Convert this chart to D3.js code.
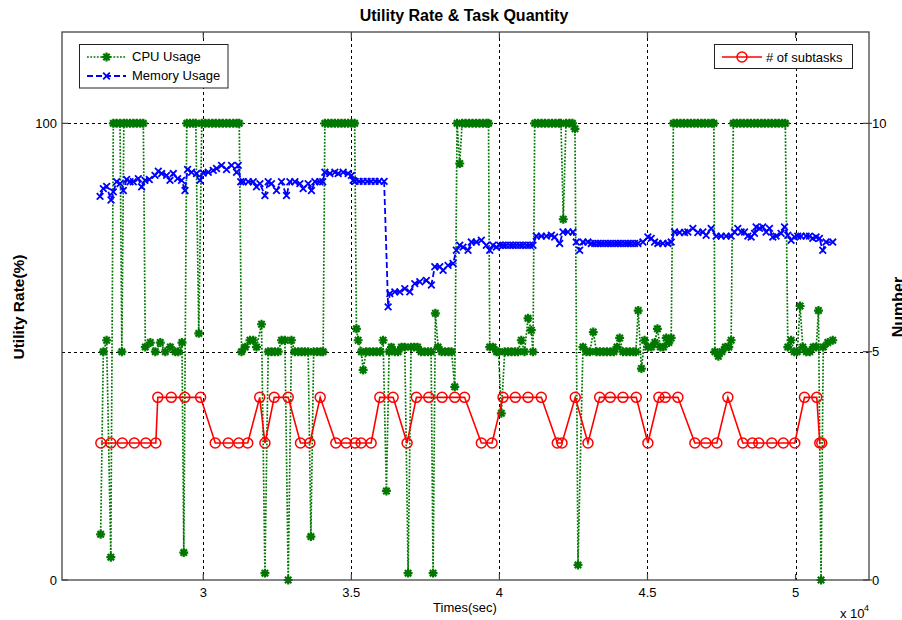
<!DOCTYPE html>
<html><head><meta charset="utf-8">
<script src="https://cdn.jsdelivr.net/npm/d3@7"></script>
<style>body{margin:0;background:#fff}svg{display:block}</style>
</head><body>
<svg id="c" width="902" height="620"></svg>
<script>
// ---- data (time in seconds) ----
const cpuTime = [26535,26626,26737,26879,26963,27075,27189,27250,27318,27412,27527,27638,27756,27874,27976,
28043,28212,28380,28549,28718,28887,29055,29156,29281,29342,29443,29551,29663,29747,29848,29949,
30067,30186,30304,30422,30540,30658,30776,30894,31012,31130,31215,31292,31417,31576,31687,31798,31967,32082,
32193,32304,32419,32531,32642,32757,32868,32979,33094,33205,33317,33431,33543,33634,33728,33846,33964,34049,
34106,34218,34329,34444,34555,34666,34781,34892,35004,35112,35172,35230,35341,35398,35500,35618,35736,35854,
35972,36073,36184,36276,36353,36468,36579,36691,36805,36917,37018,37119,37237,37355,37473,37592,37693,37760,
37838,37929,38047,38165,38283,38384,38492,38570,38661,38739,38857,38975,39093,39211,39329,39447,39565,39633,
39673,39785,39903,39970,40065,40179,40291,40409,40527,40628,40739,40847,40966,41077,41134,41192,41303,41421,
41539,41657,41775,41893,42011,42079,42157,42248,42366,42467,42551,42653,42821,42939,43057,43169,43277,43395,
43513,43631,43749,43867,43968,44060,44171,44289,44407,44525,44609,44687,44795,44903,45014,45132,45250,45335,
45436,45537,45632,45723,45801,45875,45993,46111,46229,46347,46465,46583,46701,46819,46937,47056,47174,47241,
47275,47393,47511,47629,47747,47825,47899,48017,48135,48253,48371,48490,48607,48726,48844,48962,49080,49198,
49316,49434,49552,49654,49738,49849,49957,50058,50153,50244,50362,50480,50598,50699,50774,50861,50936,51088,51256];
const cpuValue = [10,50,52.5,5,100,100,100,50,100,100,100,100,100,100,100,
51,52,50,52,50,51,50,50,52,6,100,100,100,100,54,100,
100,100,100,100,100,100,100,100,100,100,100,50,51,52.5,52.5,51,56,1.5,
50,50,50,50,52.5,52.5,0,52.5,50,50,50,50,50,9.5,50,50,50,50,
100,100,100,100,100,100,100,100,100,100,55,52.5,50,46,50,50,50,50,
50,52.5,19.5,50,51,50,50,51,51,1.5,51,51,51,50,50,50,50,1.5,
58.4,51,50,50,50,50,42.3,100,91.2,100,100,100,100,100,100,100,100,100,
51,51,50,50,36.5,50,50,50,50,50,52.5,50,57.3,54.7,50,100,100,100,
100,100,100,100,100,100,79,100,100,100,98.8,3.3,51,50,50,54.3,50,50,
50,50,50,50,51,53,50,50,50,50,50,59,46.3,52.5,51,51,52,55,
51,51,53,52,53,100,100,100,100,100,100,100,100,100,100,100,100,100,
50,49,50,51,51,52.5,100,100,100,100,100,100,100,100,100,100,100,100,
100,100,100,100,51,52.5,50,50,60,51,50,50,51,51,59,0,51,52,52.5];

const memTime = [26515,26626,26737,26886,26963,27075,27189,27301,27412,27527,27638,27807,27918,28033,28178,
28370,28482,28593,28762,28876,28988,29133,29268,29383,29470,29605,29774,29889,30000,30169,30337,30449,30617,
30786,30955,31124,31181,31265,31350,31518,31687,31798,31913,32082,32193,32304,32473,32642,32811,32925,33094,
33263,33374,33543,33654,33769,33937,34032,34106,34275,34444,34555,34724,34892,35004,35061,35128,35263,35398,
35533,35668,35803,35938,36107,36242,36299,36468,36637,36805,36974,37143,37312,37534,37703,37818,37986,38098,
38266,38435,38546,38661,38772,38941,39053,39221,39390,39559,39673,39785,39896,40011,40122,40233,40348,40459,
40571,40686,40797,40909,41024,41134,41246,41417,41586,41755,41866,42035,42146,42315,42484,42595,42710,42821,
42990,43101,43216,43327,43438,43553,43665,43776,43891,44002,44113,44228,44340,44451,44565,44677,44846,45014,
45126,45240,45352,45520,45689,45801,45915,46084,46253,46364,46533,46701,46870,46981,47150,47319,47488,47656,
47825,47940,48051,48162,48277,48388,48500,48614,48668,48783,48894,49006,49120,49232,49343,49512,49627,49738,
49849,49964,50075,50187,50356,50470,50581,50693,50807,50919,51030,51256];
const memValue = [84.0,85.7,86.2,83.2,85.0,87.2,86.8,85.3,87.7,87.2,87.2,87.9,86.1,87.5,87.7,
88.6,89.5,89.0,88.6,87.5,89.0,87.9,87.5,85.3,89.9,89.3,89.0,87.5,89.1,89.3,89.7,90.1,90.8,
89.9,90.8,89.3,90.8,87.2,87.2,87.2,87.2,86.1,86.8,84.2,87.2,86.8,85.3,87.2,84.2,87.2,87.2,
86.8,85.7,86.8,85.3,87.2,87.2,87.2,89.3,89.0,89.3,89.0,89.3,89.0,88.6,87.5,87.3,87.3,87.3,
87.3,87.3,87.3,87.3,87.3,59.8,62.7,63.1,63.1,63.8,63.1,64.9,65.3,65.6,64.6,68.6,68.6,67.8,
68.9,69.3,72.2,73.3,72.9,72.2,74.0,74.0,74.4,73.3,72.2,73.3,72.9,73.3,73.3,73.3,73.3,73.3,
73.3,73.3,73.3,73.3,73.3,73.3,75.3,75.3,75.3,75.5,75.1,73.7,76.2,76.2,76.2,74.0,72.2,74.0,
74.0,73.7,73.7,73.7,73.7,73.7,73.7,73.7,73.7,73.7,73.7,73.7,73.7,73.7,73.7,73.7,74.0,75.1,
74.8,74.0,73.7,73.7,73.7,74.0,76.2,76.1,76.1,76.2,77.0,76.1,76.2,75.5,77.0,75.3,75.3,75.3,
75.3,76.2,77.0,76.2,76.2,75.3,75.1,75.9,77.3,77.0,77.3,76.2,77.0,75.1,75.3,75.9,77.3,75.5,
74.4,75.1,75.3,75.3,75.3,75.3,74.8,75.1,74.8,72.2,74.0,74.0];

const taskTime = [26542,26879,27267,27672,28060,28397,28465,28920,29376,29909,30405,30844,31198,31501,31906,
32082,32396,32868,33283,33600,33948,34477,34825,35128,35331,35668,35962,36411,36883,37197,37615,38064,38492,
38823,39390,39751,40122,40537,40966,41414,41954,42113,42561,42990,43385,43742,44171,44620,45014,45385,45598,
46027,46600,46971,47342,47714,48220,48540,48759,49198,49586,49974,50301,50716,50818,50885];
const taskCount = [3,3,3,3,3,3,4,4,4,4,3,3,3,3,4,
3,4,4,3,3,4,3,3,3,3,3,4,4,3,4,4,4,4,
4,3,3,4,4,4,4,3,3,4,3,4,4,4,4,3,4,4,
4,3,3,3,4,3,3,3,3,3,3,4,4,3,3];

const xTicks = [30000,35000,40000,45000,50000];
const xTickLabels = ["3","3.5","4","4.5","5"];
const leftTicks = [0,100];
const rightTicks = [0,5,10];

// ---- drawing ----
const FONT = "'Liberation Sans', Arial, Helvetica, sans-serif";
const svg = d3.select("#c");
const L = 62, R = 869, T = 32, B = 580;
const x = d3.scaleLinear().domain([25230, 52480]).range([L, R]);
const yL = d3.scaleLinear().domain([0, 120]).range([B, T]);
const yR = d3.scaleLinear().domain([0, 12]).range([B, T]);

const asterisk = { draw(ctx, size) { const r = Math.sqrt(size) / 2, d = r * 0.72;
  ctx.moveTo(-r, 0); ctx.lineTo(r, 0); ctx.moveTo(0, -r); ctx.lineTo(0, r);
  ctx.moveTo(-d, -d); ctx.lineTo(d, d); ctx.moveTo(-d, d); ctx.lineTo(d, -d); } };
const cross = { draw(ctx, size) { const r = Math.sqrt(size) / 2;
  ctx.moveTo(-r, -r); ctx.lineTo(r, r); ctx.moveTo(-r, r); ctx.lineTo(r, -r); } };

svg.append("rect").attr("width", 902).attr("height", 620).attr("fill", "#fff");

// grid
const grid = svg.append("g").attr("stroke", "#000").attr("stroke-width", 1).attr("stroke-dasharray", "3,3").attr("fill", "none");
grid.selectAll("line.v").data(xTicks).join("line").attr("class", "v")
  .attr("x1", d => Math.round(x(d)) + 0.5).attr("x2", d => Math.round(x(d)) + 0.5).attr("y1", T).attr("y2", B);
grid.selectAll("line.h").data(rightTicks.slice(1)).join("line").attr("class", "h")
  .attr("y1", d => Math.round(yR(d)) + 0.5).attr("y2", d => Math.round(yR(d)) + 0.5).attr("x1", L).attr("x2", R);

// CPU
const cpu = cpuTime.map((t, i) => [t, cpuValue[i]]);
svg.append("path").datum(cpu).attr("fill", "none").attr("stroke", "#007800").attr("stroke-width", 1.7)
  .attr("stroke-dasharray", "1.8,1.5").attr("d", d3.line().x(d => x(d[0])).y(d => yL(d[1])));
svg.append("g").selectAll("path").data(cpu).join("path")
  .attr("transform", d => `translate(${x(d[0])},${yL(d[1])})`)
  .attr("d", d3.symbol().type(asterisk).size(80)).attr("stroke", "#007800").attr("stroke-width", 2.2).attr("fill", "none");

// Memory
const mem = memTime.map((t, i) => [t, memValue[i]]);
svg.append("path").datum(mem).attr("fill", "none").attr("stroke", "#0000ff").attr("stroke-width", 1.8)
  .attr("stroke-dasharray", "6,3").attr("d", d3.line().x(d => x(d[0])).y(d => yL(d[1])));
svg.append("g").selectAll("path").data(mem).join("path")
  .attr("transform", d => `translate(${x(d[0])},${yL(d[1])})`)
  .attr("d", d3.symbol().type(cross).size(44)).attr("stroke", "#0000ff").attr("stroke-width", 1.8).attr("fill", "none");

// Subtasks
const task = taskTime.map((t, i) => [t, taskCount[i]]);
svg.append("path").datum(task).attr("fill", "none").attr("stroke", "#ff0000").attr("stroke-width", 1.6)
  .attr("d", d3.line().x(d => x(d[0])).y(d => yR(d[1])));
svg.append("g").selectAll("circle").data(task).join("circle")
  .attr("cx", d => x(d[0])).attr("cy", d => yR(d[1])).attr("r", 5)
  .attr("stroke", "#ff0000").attr("stroke-width", 1.5).attr("fill", "none");

// axes box
svg.append("rect").attr("x", L).attr("y", T).attr("width", R - L).attr("height", B - T)
  .attr("fill", "none").attr("stroke", "#444").attr("stroke-width", 1.3);

// ticks
const tk = svg.append("g").attr("stroke", "#444").attr("stroke-width", 1.2);
tk.selectAll("line.b").data(xTicks).join("line").attr("x1", d => x(d)).attr("x2", d => x(d)).attr("y1", B).attr("y2", B - 6);
tk.selectAll("line.t").data(xTicks).join("line").attr("x1", d => x(d)).attr("x2", d => x(d)).attr("y1", T).attr("y2", T + 6);
tk.selectAll("line.l").data(leftTicks).join("line").attr("x1", L).attr("x2", L + 6).attr("y1", d => yL(d)).attr("y2", d => yL(d));
tk.selectAll("line.r").data(rightTicks).join("line").attr("x1", R - 6).attr("x2", R + 3).attr("y1", d => yR(d)).attr("y2", d => yR(d));

const txt = svg.append("g").attr("font-family", FONT).attr("fill", "#000");
txt.selectAll("text.xl").data(xTicks).join("text").attr("x", d => x(d)).attr("y", 597)
  .attr("text-anchor", "middle").attr("font-size", 13).text((d, i) => xTickLabels[i]);
txt.selectAll("text.yl").data(leftTicks).join("text").attr("x", 57).attr("y", d => yL(d) + 4.5)
  .attr("text-anchor", "end").attr("font-size", 13).text(d => d);
txt.selectAll("text.yr").data(rightTicks).join("text").attr("x", 872).attr("y", d => yR(d) + 4.5)
  .attr("text-anchor", "start").attr("font-size", 13).text(d => d);

txt.append("text").attr("x", 464).attr("y", 21).attr("text-anchor", "middle").attr("font-size", 16)
  .attr("font-weight", "bold").text("Utility Rate & Task Quantity");
txt.append("text").attr("x", 465).attr("y", 612).attr("text-anchor", "middle").attr("font-size", 13).text("Times(sec)");
txt.append("text").attr("x", 840).attr("y", 618).attr("font-size", 13).text("x 10");
txt.append("text").attr("x", 864).attr("y", 611).attr("font-size", 9).text("4");
txt.append("text").attr("transform", "translate(24,307) rotate(-90)").attr("text-anchor", "middle")
  .attr("font-size", 15.5).attr("font-weight", "bold").text("Utility Rate(%)");
txt.append("text").attr("transform", "translate(904,307) rotate(-90)").attr("text-anchor", "middle")
  .attr("font-size", 16).attr("font-weight", "bold").text("Number");

// legends
const lg1 = svg.append("g");
lg1.append("rect").attr("x", 79.5).attr("y", 44.5).attr("width", 148.5).attr("height", 43.5)
  .attr("fill", "#fff").attr("stroke", "#222").attr("stroke-width", 1);
lg1.append("line").attr("x1", 87).attr("x2", 126).attr("y1", 57).attr("y2", 57)
  .attr("stroke", "#007800").attr("stroke-width", 1.7).attr("stroke-dasharray", "1.8,1.5");
lg1.append("path").attr("transform", "translate(106.5,57)").attr("d", d3.symbol().type(asterisk).size(80)())
  .attr("stroke", "#007800").attr("stroke-width", 2.2).attr("fill", "none");
lg1.append("line").attr("x1", 87).attr("x2", 126).attr("y1", 76).attr("y2", 76)
  .attr("stroke", "#0000ff").attr("stroke-width", 1.8).attr("stroke-dasharray", "6,3");
lg1.append("path").attr("transform", "translate(106.5,76)").attr("d", d3.symbol().type(cross).size(44)())
  .attr("stroke", "#0000ff").attr("stroke-width", 1.8).attr("fill", "none");
lg1.append("text").attr("x", 132).attr("y", 61).attr("font-family", FONT).attr("font-size", 13).text("CPU Usage");
lg1.append("text").attr("x", 132).attr("y", 80).attr("font-family", FONT).attr("font-size", 13).text("Memory Usage");

const lg2 = svg.append("g");
lg2.append("rect").attr("x", 714.5).attr("y", 44.5).attr("width", 138).attr("height", 24)
  .attr("fill", "#fff").attr("stroke", "#222").attr("stroke-width", 1);
lg2.append("line").attr("x1", 722).attr("x2", 762).attr("y1", 57).attr("y2", 57)
  .attr("stroke", "#ff0000").attr("stroke-width", 1.6);
lg2.append("circle").attr("cx", 742).attr("cy", 57).attr("r", 5)
  .attr("stroke", "#ff0000").attr("stroke-width", 1.5).attr("fill", "none");
lg2.append("text").attr("x", 766).attr("y", 61.5).attr("font-family", FONT).attr("font-size", 13).text("# of subtasks");
</script>
</body></html>
